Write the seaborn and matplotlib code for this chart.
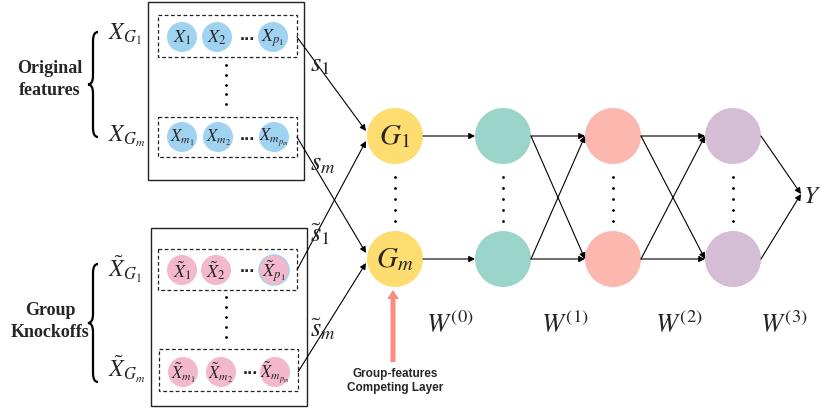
import matplotlib
matplotlib.use("Agg")
import matplotlib.pyplot as plt
from matplotlib.patches import Circle, Rectangle, PathPatch
from matplotlib.path import Path
import seaborn as sns

sns.set_theme(style="white")
plt.rcParams["mathtext.fontset"] = "stix"
plt.rcParams["font.family"] = ["Liberation Serif", "DejaVu Serif"]

# =========================
# DATOS DEL DIAGRAMA
# =========================

# capas de la red (centro x de cada capa, dos filas de nodos)
layer_x = [395, 503, 613, 733]
row_y = [136, 259]
node_r = 28
layer_colors = ["#fddd6f", "#9bd5c9", "#fcb8ae", "#d4bdd5"]
node_labels = [r"$G_1$", r"$G_m$"]

w_labels = [r"$W^{(0)}$", r"$W^{(1)}$", r"$W^{(2)}$", r"$W^{(3)}$"]
w_x = [450, 565, 679, 784]
w_y = 333

# filas de variables de entrada
feat_row_y = [37, 137, 270, 372]
feat_circle_x = [[182, 217, 273], [182, 218, 274], [182, 216, 274], [183, 221, 275]]
feat_dots_x = [247, 247, 247, 250]
feat_labels = [
    [r"$X_1$", r"$X_2$", r"$X_{p_1}$"],
    [r"$X_{m_1}$", r"$X_{m_2}$", r"$X_{m_{p_m}}$"],
    [r"$\tilde{X}_1$", r"$\tilde{X}_2$", r"$\tilde{X}_{p_1}$"],
    [r"$\tilde{X}_{m_1}$", r"$\tilde{X}_{m_2}$", r"$\tilde{X}_{m_{p_m}}$"],
]
feat_colors = ["#9fd3f1", "#9fd3f1", "#f4b8cc", "#f4b8cc"]
feat_r = 15
dashed_boxes = [(158, 15, 297, 57), (158, 117, 297, 157), (158, 249, 297, 290), (159, 349, 298, 391)]
outer_boxes = [(148, 2, 304, 180), (151, 228, 307, 406)]

group_labels = [r"$X_{G_1}$", r"$X_{G_m}$", r"$\tilde{X}_{G_1}$", r"$\tilde{X}_{G_m}$"]
group_label_y = [39, 141, 277, 377]

# pesos s que conectan grupos con la capa competitiva
s_labels = [r"$s_1$", r"$s_m$", r"$\tilde{s}_1$", r"$\tilde{s}_m$"]
s_label_y = [71, 170, 241, 336]
s_target = [(366, 131), (366, 253), (366, 141), (366, 263)]

# =========================
# FUNCIONES
# =========================

def llave(ax, x, y_top, y_bot, w=10, r=9):
    ym = (y_top + y_bot) / 2
    xm = x + w / 2
    verts = [
        (x + w, y_top), (xm, y_top), (xm, y_top + r),
        (xm, ym - r), (xm, ym), (x, ym),
        (xm, ym), (xm, ym + r),
        (xm, y_bot - r), (xm, y_bot), (x + w, y_bot),
    ]
    codes = [Path.MOVETO, Path.CURVE3, Path.CURVE3,
             Path.LINETO, Path.CURVE3, Path.CURVE3,
             Path.CURVE3, Path.CURVE3,
             Path.LINETO, Path.CURVE3, Path.CURVE3]
    ax.add_patch(PathPatch(Path(verts, codes), fill=False, lw=1.6, color="black"))


def flecha(ax, p0, p1):
    ax.annotate("", xy=p1, xytext=p0,
                arrowprops=dict(arrowstyle="-|>", color="black", lw=0.8,
                                mutation_scale=9, shrinkA=0, shrinkB=0))


def puntos_verticales(ax, x, y0, y1, n=5):
    ys = [y0 + i * (y1 - y0) / (n - 1) for i in range(n)]
    ax.scatter([x] * n, ys, s=4, color="black", zorder=3, linewidths=0)


# =========================
# FIGURA
# =========================

fig = plt.figure(figsize=(8.21, 4.09), dpi=100)
ax = fig.add_axes([0, 0, 1, 1])
ax.set_xlim(0, 821)
ax.set_ylim(409, 0)
ax.axis("off")

# cajas
for (x0, y0, x1, y1) in outer_boxes:
    ax.add_patch(Rectangle((x0, y0), x1 - x0, y1 - y0, fill=False, lw=1.0, ec="#222222"))
for (x0, y0, x1, y1) in dashed_boxes:
    ax.add_patch(Rectangle((x0, y0), x1 - x0, y1 - y0, fill=False, lw=0.9, ec="#222222",
                           ls=(0, (3, 2))))

# circulos de variables
for i, y in enumerate(feat_row_y):
    for j, x in enumerate(feat_circle_x[i]):
        ec = "#9fd3f1" if (i == 2 and j == 2) else "none"
        ax.add_patch(Circle((x, y), feat_r, fc=feat_colors[i], ec=ec, lw=1.0))
        fs = 13 if i % 2 == 0 else 12
        ax.text(x, y + 1, feat_labels[i][j], ha="center", va="center", fontsize=fs)
    ax.text(feat_dots_x[i], y - 2, "...", ha="center", va="center", fontsize=13,
            fontweight="bold", family="Liberation Sans")

puntos_verticales(ax, 226, 65, 104)
puntos_verticales(ax, 226, 297, 337)

# etiquetas de grupos y llaves
for lab, y in zip(group_labels, group_label_y):
    ax.text(108, y, lab, ha="left", va="baseline", fontsize=17)
llave(ax, 88, 32, 137)
llave(ax, 88, 264, 382)

ax.text(50, 73, "Original", ha="center", va="baseline", fontsize=13, fontweight="bold")
ax.text(50, 95, "features", ha="center", va="baseline", fontsize=13, fontweight="bold")
ax.text(50, 315, "Group", ha="center", va="baseline", fontsize=13, fontweight="bold")
ax.text(50, 337, "Knockoffs", ha="center", va="baseline", fontsize=13, fontweight="bold")

# conexiones grupos -> capa competitiva
for i, y in enumerate(feat_row_y):
    x_start = dashed_boxes[i][2]
    flecha(ax, (x_start, y), s_target[i])
    ax.text(310, s_label_y[i], s_labels[i], ha="left", va="baseline", fontsize=19)

# red
for k, x in enumerate(layer_x):
    for r, y in enumerate(row_y):
        ax.add_patch(Circle((x, y), node_r, fc=layer_colors[k], ec="none", zorder=2))
    puntos_verticales(ax, x, 177, 221)
for r, y in enumerate(row_y):
    ax.text(layer_x[0], y + 1, node_labels[r], ha="center", va="center", fontsize=21, zorder=3)

# G -> primera capa oculta (solo horizontal)
for y in row_y:
    flecha(ax, (layer_x[0] + node_r, y), (layer_x[1] - node_r, y))
# capas ocultas totalmente conectadas
for k in range(1, 3):
    for ya in row_y:
        for yb in row_y:
            flecha(ax, (layer_x[k] + node_r, ya), (layer_x[k + 1] - node_r, yb))
# salida
for y in row_y:
    flecha(ax, (layer_x[3] + node_r, y), (801, 194))
ax.text(803, 203, r"$Y$", ha="left", va="baseline", fontsize=18)

for lab, x in zip(w_labels, w_x):
    ax.text(x, w_y, lab, ha="center", va="baseline", fontsize=19)

# flecha roja de la capa competitiva
ax.arrow(393, 362, 0, -72, width=5, head_width=12, head_length=9,
         length_includes_head=True, fc="#fa8c80", ec="none")
ax.text(395, 374, "Group-features", ha="center", va="center", fontsize=8.5,
        fontweight="bold", family="Liberation Sans")
ax.text(395, 388, "Competing Layer", ha="center", va="center", fontsize=8.5,
        fontweight="bold", family="Liberation Sans")

fig.savefig("out.png", dpi=100)
